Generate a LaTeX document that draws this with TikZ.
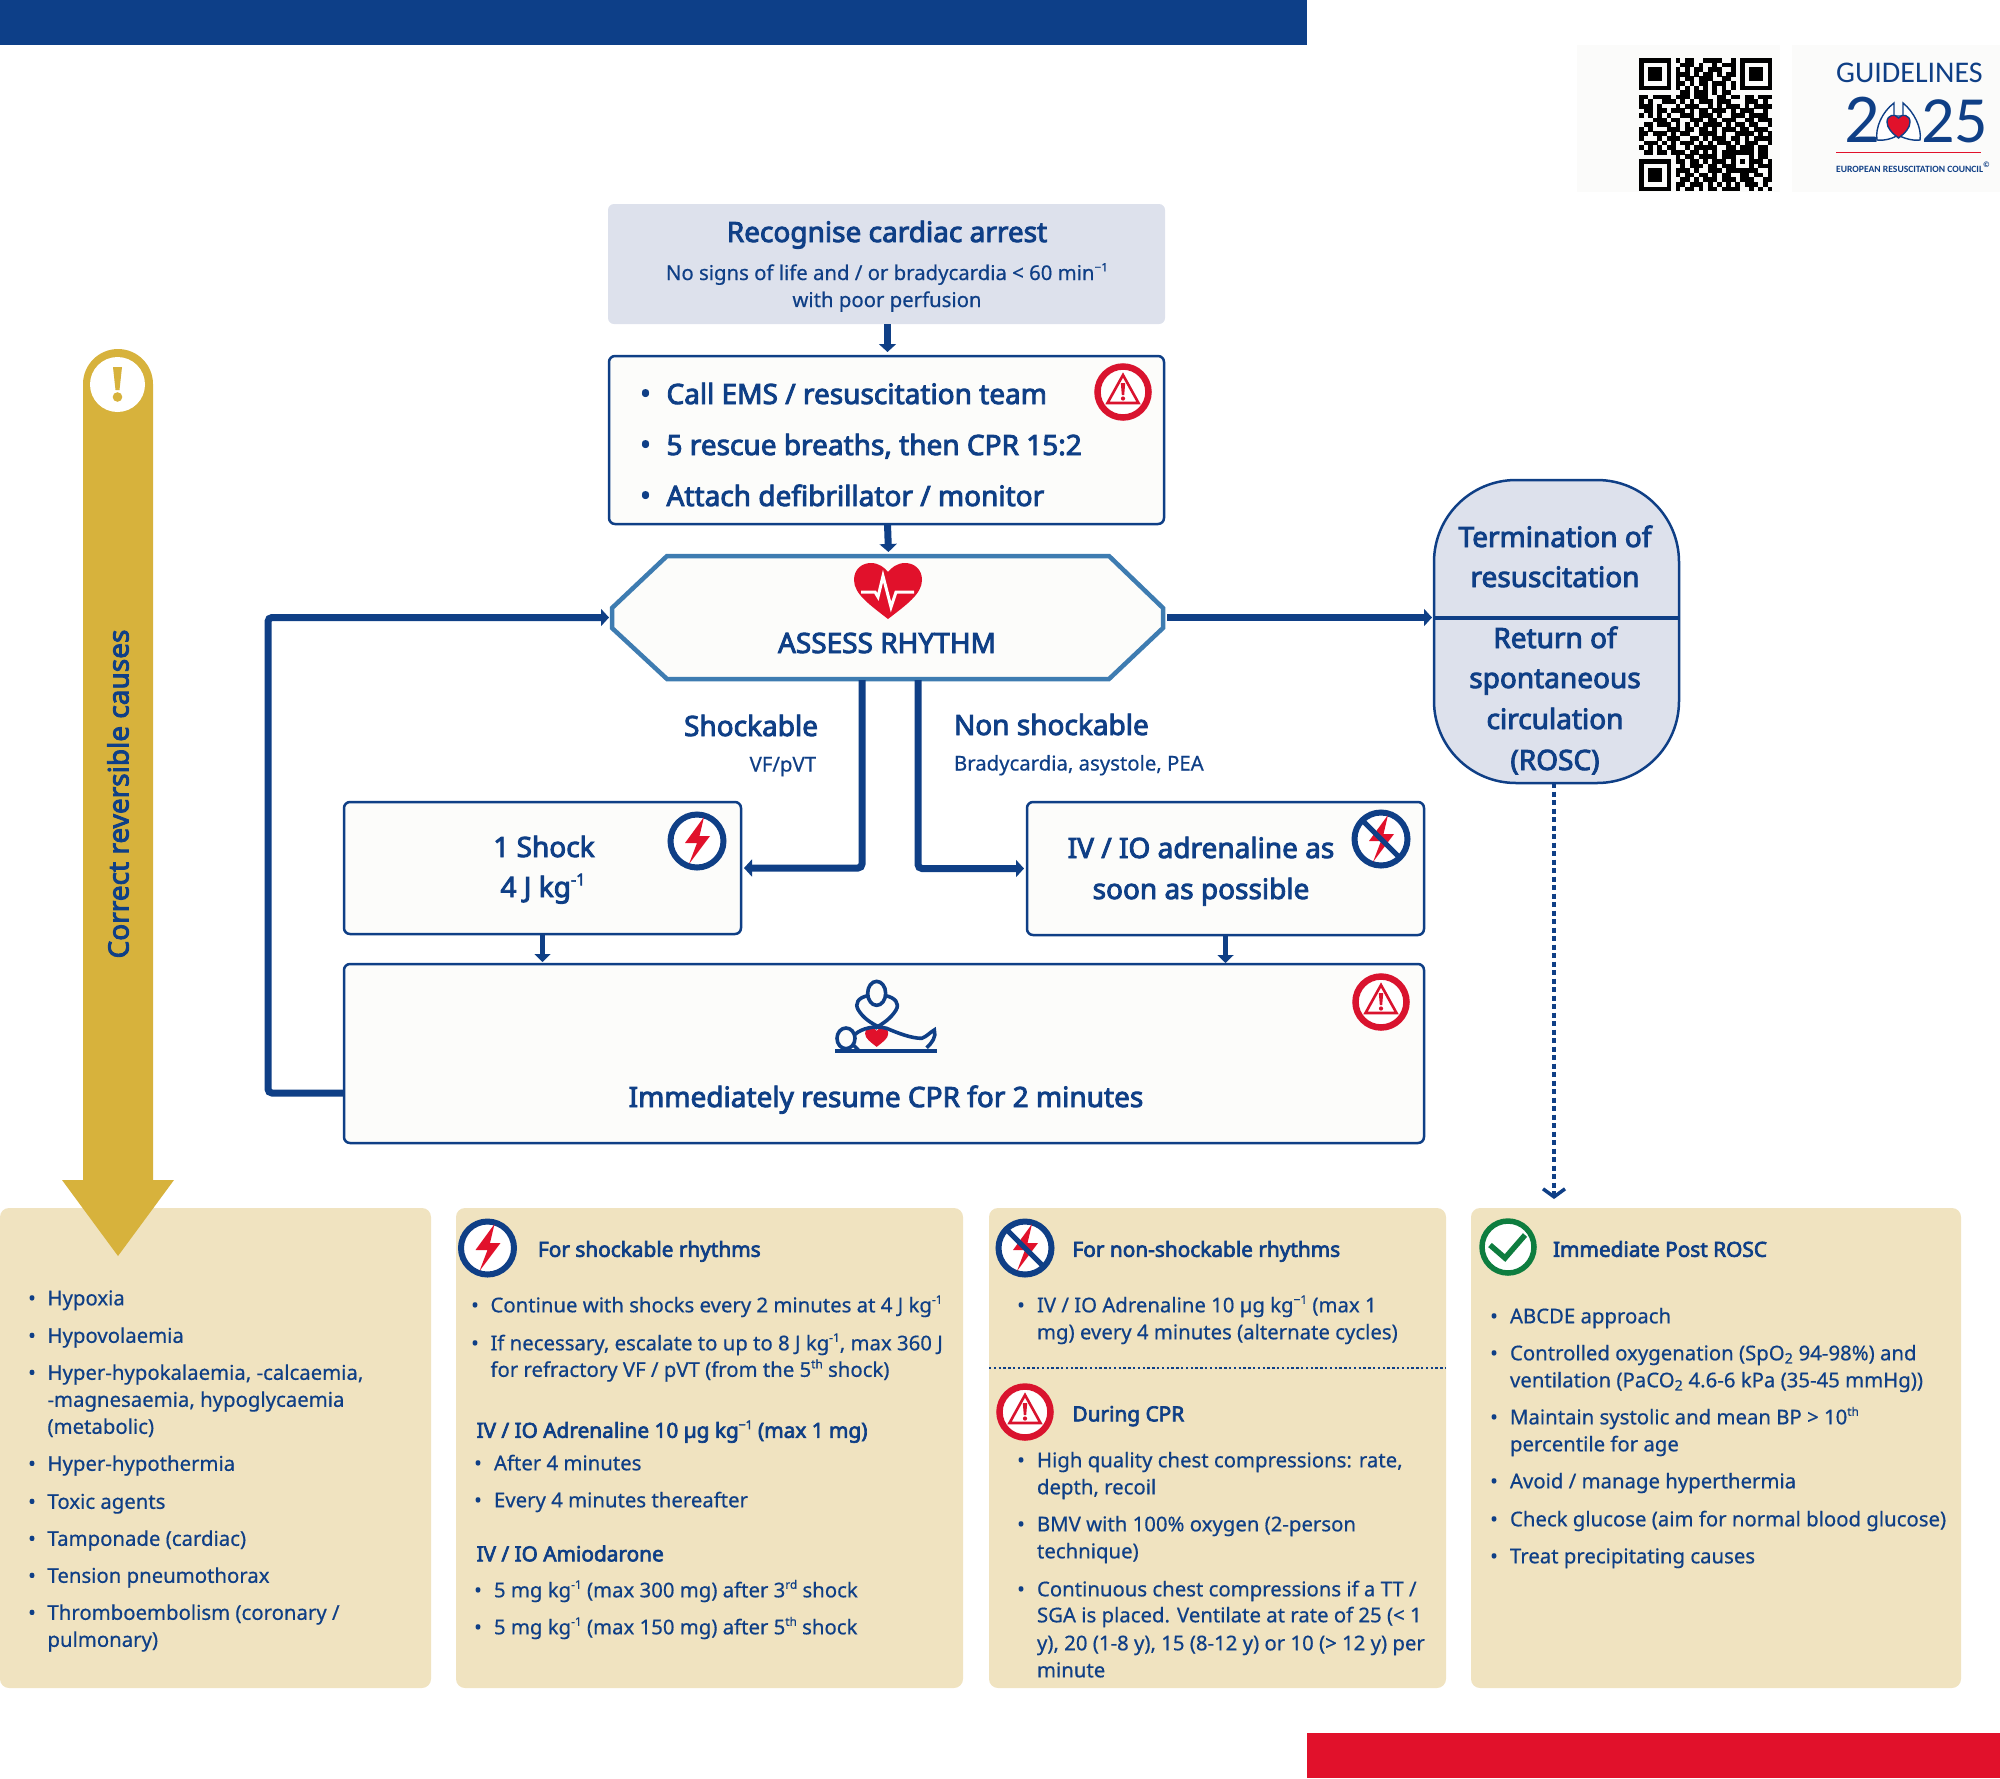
\documentclass[tikz,border=0pt]{standalone}
\usepackage{fontspec}
\setmainfont{Noto Sans}[FakeBold=0.5]
\newfontfamily\nsbold{Noto Sans}[FakeBold=3.2]
\newfontfamily\logofont{Carlito}
\usetikzlibrary{arrows.meta}
\definecolor{navy}{HTML}{0F3F86}
\definecolor{barblue}{HTML}{0D3F88}
\definecolor{alert}{HTML}{E1112B}
\definecolor{ringred}{HTML}{D9132E}
\definecolor{okgreen}{HTML}{0E7D3F}
\definecolor{gold}{HTML}{D7B23C}
\definecolor{sand}{HTML}{F0E3C0}
\definecolor{pale}{HTML}{DDE1EC}
\definecolor{paper}{HTML}{FCFCFA}
\definecolor{hexline}{HTML}{3E7CB1}
\definecolor{faint}{HTML}{FBFBFA}
\newcount\qrx
\newcount\qry
\def\qrrow#1{\qrx=0 \qrscan#1\relax \global\advance\qry by 1 }
\def\qrscan#1{\ifx#1\relax\else
  \if#1x\fill[black] (\the\qrx,\the\qry) rectangle ++(1.03,1.03);\fi
  \advance\qrx by 1 \expandafter\qrscan\fi}
\newcommand\sups[1]{\raisebox{0.42em}{\fontsize{0.58em}{0.6em}\selectfont #1}}
\tikzset{
  body/.style={anchor=base west,inner sep=0pt,outer sep=0pt,yshift=0.7pt,text=navy,font=\fontsize{20.35}{24}\selectfont},
  ptitle/.style={body,font=\nsbold\fontsize{20.8}{24}\selectfont},
  bul/.style={anchor=base,inner sep=0pt,outer sep=0pt,yshift=0.7pt,text=navy,font=\fontsize{20.35}{24}\selectfont},
  big/.style={anchor=base,inner sep=0pt,outer sep=0pt,text=navy,font=\nsbold\fontsize{28}{30}\selectfont},
  bigl/.style={big,anchor=base west},
  bigb/.style={bul,font=\nsbold\fontsize{28}{30}\selectfont},
  small/.style={anchor=base,inner sep=0pt,outer sep=0pt,text=navy,font=\fontsize{20.35}{24}\selectfont},
  flowbox/.style={draw=navy,line width=2.5pt,fill=paper,rounded corners=6pt,inner sep=0pt,outer sep=0pt},
  panel/.style={fill=sand,draw=none,rounded corners=9pt,inner sep=0pt,outer sep=0pt},
  flow/.style={draw=navy,line width=7pt,-{Triangle[length=8pt,width=17pt]}},
  flowthin/.style={draw=navy,line width=5pt,-{Triangle[length=8pt,width=16pt]}},
  pics/heartshape/.style={code={
    \fill[alert] (0,28) .. controls (-18,14) and (-34,3) .. (-34,-11) .. controls (-34,-22) and (-26,-28) .. (-17,-28) .. controls (-9,-28) and (-3,-23) .. (0,-19) .. controls (3,-23) and (9,-28) .. (17,-28) .. controls (26,-28) and (34,-22) .. (34,-11) .. controls (34,3) and (18,14) .. (0,28) -- cycle;
  }},
  pics/warnicon/.style={code={
    \draw[ringred,line width=6.5pt,fill=white] (0,0) circle[radius=25.5];
    \draw[ringred,line width=2.6pt,line join=miter] (0,-17) -- (15.5,11) -- (-15.5,11) -- cycle;
    \fill[ringred] (-2.2,-9) -- (2.2,-9) -- (1.2,3) -- (-1.2,3) -- cycle;
    \fill[ringred] (0,6.5) circle[radius=2.1];
  }},
  pics/bolticon/.style={code={
    \draw[navy,line width=6pt,fill=white] (0,0) circle[radius=26.5];
    \fill[alert] (7,-24) -- (-12,2) -- (0,2) -- (-8,23) -- (13,-5) -- (2.5,-5) -- cycle;
  }},
  pics/nobolticon/.style={code={
    \draw[navy,line width=6pt,fill=white] (0,0) circle[radius=26.5];
    \fill[alert] (7,-24) -- (-12,2) -- (0,2) -- (-8,23) -- (13,-5) -- (2.5,-5) -- cycle;
    \draw[navy,line width=5pt] (-19,-19) -- (19,19);
  }},
  pics/checkicon/.style={code={
    \draw[okgreen,line width=5.5pt,fill=white] (0,0) circle[radius=26];
    \draw[okgreen,line width=5.5pt] (-18,-2) -- (-3,11) -- (17,-12);
  }}
}
\begin{document}
\begin{tikzpicture}[x=1pt,y=-1pt]
\useasboundingbox (0,0) rectangle (2000,1778);
% bars
\fill[barblue] (0,0) rectangle (1307,45);
\fill[alert] (1307,1733) rectangle (2000,1778);
% QR and logo backgrounds
\fill[faint] (1577,45) rectangle (1780,192);
\fill[faint] (1792,45) rectangle (2000,192);
% QR code
\begin{scope}[shift={(1639,58)},x=4.59pt,y=-4.59pt]
\global\qry=0
\qrrow{xxxxxxx . x.xx..xxxx..x . xxxxxxx}
\qrrow{x.....x . .xxx.x..x.xxx . x.....x}
\qrrow{x.xxx.x . x.x.xx.xxx..x . x.xxx.x}
\qrrow{x.xxx.x . xxx.x.xx.x.xx . x.xxx.x}
\qrrow{x.xxx.x . x.xx.xxx..xx. . x.xxx.x}
\qrrow{x.....x . xx.x.xx.xxx.x . x.....x}
\qrrow{xxxxxxx . x.x.x.x.x.x.x . xxxxxxx}
\qrrow{....... . .xx.xxx.x.xx. . .......}
\qrrow{xx.xx xx.xx x.xxx ..xx. xx.xx .xxx}
\qrrow{x.x.. xxx.x .x.xx x.xxx ...xx x.x.}
\qrrow{xxx.x ...x. xxx.. x.x.x xx.x. xxxx}
\qrrow{.xx.x x.xxx .x.xx .xxx. x.xxx ..x.}
\qrrow{x.x.x .x..x xx.xx x.x.. xxx.x xxx.}
\qrrow{...xx x.xx. .xxx. xx.xx x..xx .xxx}
\qrrow{.xx.x xx.x. x.x.x xxx.x .xx.x x..x}
\qrrow{x.x.. .xxx. xx.xx .x.xx x.xx. xxx.}
\qrrow{xx.xx x.x.x x..xx xx.x. .xxxx .x.x}
\qrrow{x...x .xxx. .xx.x .xxx. xx.x. xxxx}
\qrrow{.xxx. x.x.x xx.x. x.xxx .x.xx x..x}
\qrrow{x.x.x .xx.. x.xxx xx..x x.xxx .xx.}
\qrrow{.xx.x x.xxx .xx.x .x.xx xxxxx .xx.}
\qrrow{........ x.xx.xxxx.xx x...x .xx.}
\qrrow{xxxxxxx . xx.xx.x.xxx. x.x.x xx.x}
\qrrow{x.....x . .x.xxx.xx.xx x...x .xxx}
\qrrow{x.xxx.x . xxx.x..xxx.x xxxxx x..x}
\qrrow{x.xxx.x . x.xx.xx.x.xx ..xx. xx.x}
\qrrow{x.xxx.x . .xx.x.xxx.xx x.xxx ..xx}
\qrrow{x.....x . xx.xxx.x.x.x .x.xx x.x.}
\qrrow{xxxxxxx . x.xx.x.xx.xx xx..x .x.x}
\end{scope}
% logo
\node[anchor=base west,inner sep=0pt,text=navy,font=\logofont\fontsize{30}{34}\selectfont] (logotitle) at (1836,82) {GUIDELINES};
\node[anchor=base west,inner sep=0pt,text=navy,font=\logofont\fontsize{70}{72}\selectfont] (logotwo) at (1844,142) {2};
\node[anchor=base west,inner sep=0pt,text=navy,font=\logofont\fontsize{66}{72}\selectfont] (logoyear) at (1921,142) {25};
\draw[navy,line width=1.4pt,fill=white] (1894,103) .. controls (1882,112) and (1875,128) .. (1877,140) .. controls (1885,141) and (1894,138) .. (1898,135) .. controls (1903,138) and (1912,141) .. (1920,140) .. controls (1922,128) and (1914,112) .. (1903,103) -- (1903,116) -- (1894,116) -- cycle;
\draw[navy,line width=1.4pt,fill=alert] (1898.5,138) .. controls (1892,133) and (1887,128) .. (1887,122) .. controls (1887,115) and (1895,113) .. (1898.5,118) .. controls (1902,113) and (1910,115) .. (1910,122) .. controls (1910,128) and (1905,133) .. (1898.5,138) -- cycle;
\draw[alert,line width=1pt] (1836,152) -- (1981,152);
\node[anchor=base west,inner sep=0pt,text=navy,font=\logofont\fontsize{9.6}{11}\selectfont\bfseries] (logoerc) at (1836,172) {EUROPEAN RESUSCITATION COUNCIL\raisebox{0.45em}{\fontsize{8}{9}\selectfont©}};

% panels
\node[panel,minimum width=431pt,minimum height=480pt,anchor=north west] (pa) at (0,1208) {};
\node[panel,minimum width=507pt,minimum height=480pt,anchor=north west] (pb) at (456,1208) {};
\node[panel,minimum width=457pt,minimum height=480pt,anchor=north west] (pc) at (989,1208) {};
\node[panel,minimum width=490pt,minimum height=480pt,anchor=north west] (pd) at (1471,1208) {};

% gold arrow
\fill[gold] (83,1180) -- (83,384) .. controls (83,364.7) and (98.7,349) .. (118,349) .. controls (137.3,349) and (153,364.7) .. (153,384) -- (153,1180) -- (174,1180) -- (118,1256) -- (62,1180) -- cycle;
\fill[white] (117.5,384.5) circle[radius=27.5];
\fill[gold] (113,367) -- (122,367) -- (119.5,390) -- (115.5,390) -- cycle;
\fill[gold] (117.5,397) circle[radius=4.8];
\node[big,anchor=center,rotate=90] (correct) at (118,794) {Correct reversible causes};

% flow boxes
\node[fill=pale,rounded corners=6pt,inner sep=0pt,outer sep=0pt,minimum width=557pt,minimum height=120pt] (recog) at (886.5,264) {};
\node[flowbox,minimum width=555pt,minimum height=168pt] (call) at (886.5,440) {};
\draw[hexline,line width=4.5pt,fill=paper,line join=miter] (612,608) -- (667,556) -- (1109,556) -- (1163,608) -- (1163,628) -- (1109,679) -- (667,679) -- (612,628) -- cycle;
\node[inner sep=0pt,outer sep=0pt,minimum width=555pt,minimum height=123pt] (hex) at (887.5,617.5) {};
\node[flowbox,minimum width=397pt,minimum height=132pt] (shock) at (542.5,868) {};
\node[flowbox,minimum width=397pt,minimum height=133pt] (adren) at (1225.5,868.5) {};
\node[flowbox,minimum width=1080pt,minimum height=179pt] (cpr) at (884,1053.5) {};
\node[fill=pale,draw=navy,line width=2.5pt,rounded corners=82pt,inner sep=0pt,outer sep=0pt,minimum width=245pt,minimum height=303pt] (rosc) at (1556.5,631.5) {};
\draw[navy,line width=4pt] (rosc.west |- hex.east) -- (rosc.east |- hex.east);

% connectors
\coordinate (loopstart) at (344,1093);
\coordinate (loopcorner) at (268,1093);
\coordinate (shockstem) at (862,680);
\coordinate (adrenstem) at (918,680);
\coordinate (roscend) at (1554,1199);
\draw[flow,shorten >=1pt] ([xshift=1pt]recog.south) -- ([xshift=1pt,yshift=3pt]call.north);
\draw[flow,shorten >=1pt] ([xshift=1pt]call.south) -- ([xshift=1pt,yshift=3pt]hex.north);
\draw[flow,rounded corners=4pt] (loopstart) -- (loopcorner) |- ([xshift=-1pt]hex.west);
\draw[flow] ([xshift=2pt]hex.east) -- ([xshift=-2pt]rosc.west |- hex.east);
\draw[flow,rounded corners=4pt] (shockstem) |- ([xshift=3pt]shock.east);
\draw[flow,rounded corners=4pt] (adrenstem) |- ([xshift=-3pt]adren.west);
\draw[flowthin] (shock.south) -- ([yshift=2pt]shock.south |- cpr.north);
\draw[flowthin] (adren.south) -- ([yshift=1pt]adren.south |- cpr.north);
\draw[navy,line width=3.5pt,dash pattern=on 5pt off 3.5pt,-{Straight Barb[length=8pt,width=22pt,line width=3.5pt]}] ([xshift=-2.5pt]rosc.south) -- (roscend);

% flow text
\node[big] (recogt) at (887,242) {Recognise cardiac arrest};
\node[small] (recoga) at (887,280) {No signs of life and / or bradycardia < 60 min\sups{−1}};
\node[small] (recogb) at (887,307) {with poor perfusion};
\node[bigb] (callb1) at (645.5,404) {•};
\node[bigl] (callt1) at (666.5,404) {Call EMS / resuscitation team};
\node[bigb] (callb2) at (645.5,455) {•};
\node[bigl] (callt2) at (666.5,455) {5 rescue breaths, then CPR 15:2};
\node[bigb] (callb3) at (645.5,506) {•};
\node[bigl] (callt3) at (666.5,506) {Attach defibrillator / monitor};
\pic at (1123,392) {warnicon};
\pic at (888,591) {heartshape};
\draw[white,line width=3pt] (861,592) -- (875,592) -- (878,597) -- (883,576) -- (891,607) -- (896,592) -- (914,592);
\node[big] (assess) at (887,653) {ASSESS RHYTHM};
\node[big,anchor=base east] (shockable) at (818,736) {Shockable};
\node[small,anchor=base east] (vf) at (816,771.5) {VF/pVT};
\node[bigl] (nonshock) at (954,735) {Non shockable};
\node[small,anchor=base west] (brady) at (954,770.5) {Bradycardia, asystole, PEA};
\node[big] (shocka) at (544,857) {1 Shock};
\node[big] (shockb) at (543,897) {4 J kg\sups{-1}};
\pic at (697,841) {bolticon};
\node[big] (adrena) at (1201,858) {IV / IO adrenaline as};
\node[big] (adrenb) at (1201,899) {soon as possible};
\pic at (1381,839) {nobolticon};
\pic at (1381,1002) {warnicon};
\node[big] (resume) at (886,1107) {Immediately resume CPR for 2 minutes};
\node[big] (rosca) at (1555,547) {Termination of};
\node[big] (roscb) at (1555,587) {resuscitation};
\node[big] (roscc) at (1555,648) {Return of};
\node[big] (roscd) at (1555,688) {spontaneous};
\node[big] (rosce) at (1555,729) {circulation};
\node[big] (roscf) at (1555,770) {(ROSC)};

% CPR figure
\begin{scope}[shift={(825,975)},x=0.3333pt,y=-0.3333pt]
\pic[scale=1.02] at (155,187) {heartshape};
\draw[navy,line width=3.6pt,fill=paper] (155,55) ellipse[x radius=27,y radius=36];
\draw[navy,line width=3.6pt] (128,62) .. controls (100,68) and (88,85) .. (100,105) .. controls (115,130) and (140,145) .. (160,155);
\draw[navy,line width=3.6pt] (182,62) .. controls (210,68) and (225,85) .. (213,105) .. controls (198,130) and (175,145) .. (150,160);
\draw[navy,line width=3.6pt] (63,190) ellipse[x radius=27,y radius=31];
\draw[navy,line width=3.6pt] (90,178) .. controls (110,160) and (150,150) .. (185,160) .. controls (220,175) and (260,190) .. (290,190) .. controls (305,185) and (315,172) .. (328,165) .. controls (335,185) and (320,205) .. (305,218);
\draw[navy,line width=3.6pt] (85,210) -- (100,225);
\draw[navy,line width=4pt] (30,228) -- (335,228);
\end{scope}

% panel A
\begin{scope}[yshift=-1pt]
\node[bul] (a1b) at (32,1305) {•}; \node[body] (a1) at (47.5,1305) {Hypoxia};
\node[bul] (a2b) at (32,1342.5) {•}; \node[body] (a2) at (47.5,1342.5) {Hypovolaemia};
\node[bul] (a3b) at (32,1379.5) {•}; \node[body] (a3) at (47.5,1379.5) {Hyper-hypokalaemia, -calcaemia,};
\node[body] (a4) at (47.5,1406.5) {-magnesaemia, hypoglycaemia};
\node[body] (a5) at (47.5,1433.5) {(metabolic)};
\node[bul] (a6b) at (32,1470.5) {•}; \node[body] (a6) at (47.5,1470.5) {Hyper-hypothermia};
\node[bul] (a7b) at (32,1508.5) {•}; \node[body] (a7) at (47.5,1508.5) {Toxic agents};
\node[bul] (a8b) at (32,1545.5) {•}; \node[body] (a8) at (47.5,1545.5) {Tamponade (cardiac)};
\node[bul] (a9b) at (32,1582.5) {•}; \node[body] (a9) at (47.5,1582.5) {Tension pneumothorax};
\node[bul] (a10b) at (32,1619.5) {•}; \node[body] (a10) at (47.5,1619.5) {Thromboembolism (coronary /};
\node[body] (a11) at (47.5,1646.5) {pulmonary)};
\end{scope}

% panel B
\pic at (487.5,1248) {bolticon};
\node[ptitle] (bt) at (538,1257.5) {For shockable rhythms};
\node[bul] (b1b) at (475,1313) {•}; \node[body] (b1) at (490.5,1313) {Continue with shocks every 2 minutes at 4 J kg\sups{-1}};
\node[bul] (b2b) at (475,1351) {•}; \node[body] (b2) at (490.5,1351) {If necessary, escalate to up to 8 J kg\sups{-1}, max 360 J};
\node[body] (b3) at (490.5,1377.5) {for refractory VF / pVT (from the 5\sups{th} shock)};
\node[ptitle] (b4) at (476.5,1438.5) {IV / IO Adrenaline 10 µg kg\sups{−1} (max 1 mg)};
\node[bul] (b5b) at (478,1471) {•}; \node[body] (b5) at (494,1471) {After 4 minutes};
\node[bul] (b6b) at (478,1508) {•}; \node[body] (b6) at (494,1508) {Every 4 minutes thereafter};
\node[ptitle] (b7) at (476.5,1562) {IV / IO Amiodarone};
\node[bul] (b8b) at (478,1598) {•}; \node[body] (b8) at (494,1598) {5 mg kg\sups{-1} (max 300 mg) after 3\sups{rd} shock};
\node[bul] (b9b) at (478,1635) {•}; \node[body] (b9) at (494,1635) {5 mg kg\sups{-1} (max 150 mg) after 5\sups{th} shock};

% panel C
\pic at (1025,1248) {nobolticon};
\node[ptitle] (ct) at (1072.5,1257.5) {For non-shockable rhythms};
\node[bul] (c1b) at (1021,1313) {•}; \node[body] (c1) at (1037,1313) {IV / IO Adrenaline 10 µg kg\sups{−1} (max 1};
\node[body] (c2) at (1037,1340) {mg) every 4 minutes (alternate cycles)};
\draw[navy,line width=2.2pt,dash pattern=on 2.4pt off 2.4pt] (pc.west |- 0,1368) -- (pc.east |- 0,1368);
\pic at (1025,1412) {warnicon};
\node[ptitle] (ct2) at (1072.5,1422) {During CPR};
\node[bul] (c3b) at (1021,1468) {•}; \node[body] (c3) at (1037,1468) {High quality chest compressions: rate,};
\node[body] (c4) at (1037,1495) {depth, recoil};
\node[bul] (c5b) at (1021,1532) {•}; \node[body] (c5) at (1037,1532) {BMV with 100\% oxygen (2-person};
\node[body] (c6) at (1037,1559) {technique)};
\node[bul] (c7b) at (1021,1597) {•}; \node[body] (c7) at (1037,1597) {Continuous chest compressions if a TT /};
\node[body] (c8) at (1037,1623) {SGA is placed. Ventilate at rate of 25 (< 1};
\node[body] (c9) at (1037,1651) {y), 20 (1-8 y), 15 (8-12 y) or 10 (> 12 y) per};
\node[body] (c10) at (1037,1678) {minute};

% panel D
\pic at (1508,1247) {checkicon};
\node[ptitle] (dt) at (1553,1257.5) {Immediate Post ROSC};
\node[bul] (d1b) at (1494,1324) {•}; \node[body] (d1) at (1510,1324) {ABCDE approach};
\node[bul] (d2b) at (1494,1361) {•}; \node[body] (d2) at (1510,1361) {Controlled oxygenation (SpO\textsubscript{2} 94-98\%) and};
\node[body] (d3) at (1510,1388) {ventilation (PaCO\textsubscript{2} 4.6-6 kPa (35-45 mmHg))};
\node[bul] (d4b) at (1494,1425) {•}; \node[body] (d4) at (1510,1425) {Maintain systolic and mean BP > 10\sups{th}};
\node[body] (d5) at (1510,1452) {percentile for age};
\node[bul] (d6b) at (1494,1489) {•}; \node[body] (d6) at (1510,1489) {Avoid / manage hyperthermia};
\node[bul] (d7b) at (1494,1527) {•}; \node[body] (d7) at (1510,1527) {Check glucose (aim for normal blood glucose)};
\node[bul] (d8b) at (1494,1564) {•}; \node[body] (d8) at (1510,1564) {Treat precipitating causes};
\end{tikzpicture}
\end{document}
